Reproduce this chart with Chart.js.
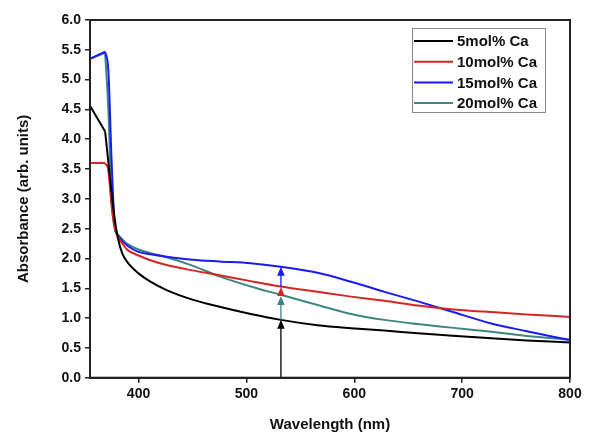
<!DOCTYPE html>
<html>
<head>
<meta charset="utf-8">
<script src="https://cdn.jsdelivr.net/npm/chart.js@4"></script>
<style>
  body { margin: 0; background: #fff; }
  #wrap { width: 592px; height: 435px; }
</style>
</head>
<body>
<div id="wrap"><canvas id="chart" width="592" height="435"></canvas></div>
<script>
// wavelength grid (nm) shared by all series
const wavelengths = [355, 369, 372, 375, 378, 381, 385, 390, 400, 411, 426, 450, 475, 504, 532, 566, 597, 628, 659, 690, 727, 760, 800];

const ca5  = [4.56, 4.13, 3.62, 3.10, 2.65, 2.33, 2.08, 1.93, 1.75, 1.61, 1.47, 1.31, 1.19, 1.07, 0.97, 0.88, 0.83, 0.79, 0.745, 0.705, 0.66, 0.625, 0.59];
const ca10 = [3.60, 3.60, 3.48, 2.88, 2.50, 2.36, 2.25, 2.14, 2.05, 1.97, 1.89, 1.80, 1.72, 1.62, 1.53, 1.44, 1.36, 1.29, 1.21, 1.15, 1.10, 1.06, 1.02];
const ca15 = [5.35, 5.47, 5.16, 3.65, 2.55, 2.38, 2.29, 2.21, 2.11, 2.07, 2.03, 1.98, 1.95, 1.92, 1.86, 1.76, 1.61, 1.44, 1.28, 1.11, 0.91, 0.78, 0.63];
const ca20 = [5.35, 5.45, 4.50, 3.00, 2.50, 2.40, 2.32, 2.24, 2.15, 2.09, 2.02, 1.88, 1.70, 1.53, 1.39, 1.22, 1.07, 0.97, 0.90, 0.84, 0.77, 0.70, 0.64];

const seriesLabels = ['5mol% Ca', '10mol% Ca', '15mol% Ca', '20mol% Ca'];
const seriesColors = ['#000000', '#d42626', '#1a1af2', '#3f8580'];

// arrows at 532 nm: start and tip values
const arrowX = 532;
const arrowFrom = [0, 0.97, 1.37, 1.52];
const arrowTo   = [0.97, 1.37, 1.52, 1.86];
const arrowColors = ['#000000', '#3f8580', '#d42626', '#1a1af2'];

const xTicks = [400, 500, 600, 700, 800];
const yTicks = [0, 0.5, 1, 1.5, 2, 2.5, 3, 3.5, 4, 4.5, 5, 5.5, 6];

const FONT = '"Liberation Sans", Arial, sans-serif';

// the first stretch (355-369) is a straight segment, the rest is smooth;
// splitting there keeps the sharp corner at 369 nm
function headPoints(vals) {
  return wavelengths.slice(0, 2).map((w, i) => ({ x: w, y: vals[i] }));
}
function bodyPoints(vals) {
  return wavelengths.slice(1).map((w, i) => ({ x: w, y: vals[i + 1] }));
}

const allSeries = [ca5, ca10, ca15, ca20];
const datasets = [];
allSeries.forEach((vals, i) => {
  datasets.push({
    label: seriesLabels[i],
    data: bodyPoints(vals),
    borderColor: seriesColors[i],
    borderWidth: 2,
    pointRadius: 0,
    cubicInterpolationMode: 'monotone',
    fill: false
  });
  datasets.push({
    label: seriesLabels[i] + ' head',
    data: headPoints(vals),
    borderColor: seriesColors[i],
    borderWidth: 2,
    pointRadius: 0,
    tension: 0,
    fill: false
  });
});

// box around plot + custom legend + arrows
const decorPlugin = {
  id: 'decor',
  afterDatasetsDraw(chart) {
    const { ctx, scales: { x, y } } = chart;
    const px = x.getPixelForValue(arrowX);
    ctx.save();
    arrowFrom.forEach((from, i) => {
      const y0 = y.getPixelForValue(from);
      const y1 = y.getPixelForValue(arrowTo[i]);
      ctx.strokeStyle = arrowColors[i];
      ctx.fillStyle = arrowColors[i];
      ctx.lineWidth = 1.3;
      ctx.beginPath();
      ctx.moveTo(px, y0);
      ctx.lineTo(px, y1 + 6);
      ctx.stroke();
      ctx.beginPath();
      ctx.moveTo(px, y1);
      ctx.lineTo(px - 3.8, y1 + 9);
      ctx.lineTo(px + 3.8, y1 + 9);
      ctx.closePath();
      ctx.fill();
    });
    ctx.restore();
  },
  afterDraw(chart) {
    const { ctx, chartArea: a } = chart;
    ctx.save();
    ctx.strokeStyle = '#222';
    ctx.lineWidth = 2;
    ctx.strokeRect(a.left, a.top, a.right - a.left, a.bottom - a.top);

    // legend
    const bx = 412, by = 28, bw = 133, bh = 84;
    ctx.fillStyle = '#fff';
    ctx.fillRect(bx, by, bw, bh);
    ctx.strokeStyle = '#8a8a8a';
    ctx.lineWidth = 1;
    ctx.strokeRect(bx + 0.5, by + 0.5, bw, bh);
    ctx.font = 'bold 15px ' + FONT;
    ctx.textBaseline = 'middle';
    ctx.textAlign = 'left';
    seriesLabels.forEach((lab, i) => {
      const ry = 41 + i * 20.7;
      ctx.strokeStyle = seriesColors[i];
      ctx.lineWidth = 2;
      ctx.beginPath();
      ctx.moveTo(414, ry);
      ctx.lineTo(453, ry);
      ctx.stroke();
      ctx.fillStyle = '#111';
      ctx.fillText(lab, 457, ry + 1);
    });
    ctx.restore();
  }
};

new Chart(document.getElementById('chart'), {
  type: 'line',
  data: { datasets: datasets },
  options: {
    responsive: false,
    animation: false,
    layout: { padding: { left: 0, right: 22, top: 20, bottom: 0 } },
    plugins: {
      legend: { display: false },
      tooltip: { enabled: false }
    },
    scales: {
      x: {
        type: 'linear',
        min: 355,
        max: 800,
        afterBuildTicks: (s) => { s.ticks = xTicks.map(v => ({ value: v })); },
        afterFit: (s) => { s.height = 57.3; },
        grid: { drawOnChartArea: false, drawTicks: true, tickLength: 5, color: '#222', lineWidth: 1.5 },
        border: { display: true, color: '#222', width: 2 },
        ticks: { color: '#111', padding: 3, font: { family: FONT, size: 14, weight: 'bold' } },
        title: {
          display: true,
          text: 'Wavelength (nm)',
          color: '#111',
          padding: { top: 0, bottom: 1 },
          font: { family: FONT, size: 15, weight: 'bold' }
        }
      },
      y: {
        min: 0,
        max: 6,
        afterBuildTicks: (s) => { s.ticks = yTicks.map(v => ({ value: v })); },
        afterFit: (s) => { s.width = 90; },
        grid: { drawOnChartArea: false, drawTicks: true, tickLength: 5, color: '#222', lineWidth: 1.5 },
        border: { display: true, color: '#222', width: 2 },
        ticks: {
          color: '#111',
          padding: 4,
          font: { family: FONT, size: 14, weight: 'bold' },
          callback: (v) => Number(v).toFixed(1)
        },
        title: {
          display: true,
          text: 'Absorbance (arb. units)',
          color: '#111',
          padding: { top: 15, bottom: 0 },
          font: { family: FONT, size: 15, weight: 'bold' }
        }
      }
    }
  },
  plugins: [decorPlugin]
});
</script>
</body>
</html>
